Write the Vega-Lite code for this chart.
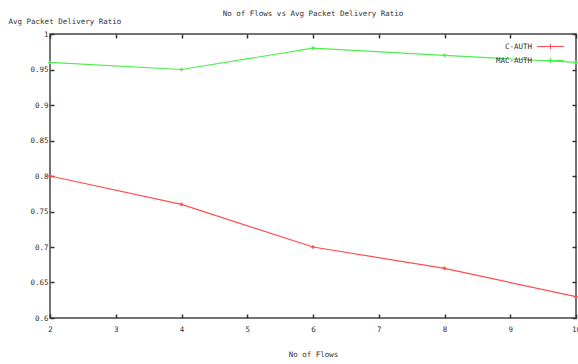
{
  "$schema": "https://vega.github.io/schema/vega-lite/v6.json",
  "width": 526,
  "height": 284,
  "autosize": {"type": "none"},
  "padding": {"left": 50, "top": 34, "right": 2, "bottom": 46},
  "background": "white",
  "title": {"text": "No of Flows vs Avg Packet Delivery Ratio", "fontSize": 7.5, "font": "DejaVu Sans Mono", "fontWeight": "normal", "color": "#333", "offset": 0, "anchor": "middle"},
  "data": {"values": [
    {"flows": 2, "pdr": 0.80, "series": "C-AUTH"},
    {"flows": 4, "pdr": 0.76, "series": "C-AUTH"},
    {"flows": 6, "pdr": 0.70, "series": "C-AUTH"},
    {"flows": 8, "pdr": 0.67, "series": "C-AUTH"},
    {"flows": 10, "pdr": 0.63, "series": "C-AUTH"},
    {"flows": 2, "pdr": 0.96, "series": "MAC-AUTH"},
    {"flows": 4, "pdr": 0.95, "series": "MAC-AUTH"},
    {"flows": 6, "pdr": 0.98, "series": "MAC-AUTH"},
    {"flows": 8, "pdr": 0.97, "series": "MAC-AUTH"},
    {"flows": 10, "pdr": 0.96, "series": "MAC-AUTH"}
  ]},
  "layer": [
    {
      "mark": {"type": "line", "strokeWidth": 1.2, "clip": true},
      "encoding": {
        "x": {"field": "flows", "type": "quantitative", "scale": {"domain": [2, 10], "nice": false, "zero": false},
          "axis": {"orient": "bottom", "values": [2, 3, 4, 5, 6, 7, 8, 9, 10], "labelFlush": false, "labelPadding": 11, "title": "No of Flows", "titleY": 36, "titleBaseline": "middle", "titleX": 263}},
        "y": {"field": "pdr", "type": "quantitative", "scale": {"domain": [0.6, 1], "nice": false, "zero": false},
          "axis": {"orient": "left", "values": [0.6, 0.65, 0.7, 0.75, 0.8, 0.85, 0.9, 0.95, 1], "labelFlush": false, "format": ".2~f", "labelPadding": 6, "title": "Avg Packet Delivery Ratio", "titleAngle": 0, "titleX": -42, "titleY": -13, "titleAlign": "left", "titleBaseline": "middle"}},
        "color": {"field": "series", "type": "nominal",
          "scale": {"domain": ["C-AUTH", "MAC-AUTH"], "range": ["#ff4d4d", "#4dee4d"]},
          "legend": {"orient": "none", "legendX": 493, "legendY": 5, "title": null, "padding": 0,
            "symbolType": "M-1.93,0H1.93M0,-0.36V0.36M-0.36,0H0.36", "symbolSize": 196, "symbolStrokeWidth": 1, "symbolFillColor": "transparent",
            "labelAlign": "right", "labelOffset": -26, "labelFontSize": 7.5, "labelFont": "DejaVu Sans Mono", "labelColor": "#333", "rowPadding": 1}}
      }
    },
    {
      "mark": {"type": "point", "shape": "cross", "filled": true, "size": 14, "opacity": 1},
      "encoding": {
        "x": {"field": "flows", "type": "quantitative", "scale": {"domain": [2, 10], "nice": false, "zero": false},
          "axis": {"orient": "top", "values": [2, 3, 4, 5, 6, 7, 8, 9, 10], "labels": false, "title": null}},
        "y": {"field": "pdr", "type": "quantitative", "scale": {"domain": [0.6, 1], "nice": false, "zero": false},
          "axis": {"orient": "right", "values": [0.6, 0.65, 0.7, 0.75, 0.8, 0.85, 0.9, 0.95, 1], "labels": false, "title": null}},
        "color": {"field": "series", "type": "nominal"}
      }
    }
  ],
  "resolve": {"axis": {"x": "independent", "y": "independent"}},
  "config": {
    "view": {"stroke": "#444", "strokeWidth": 1.5},
    "axis": {"domain": false, "grid": false, "tickColor": "#333", "tickSize": -4, "tickWidth": 1.5,
      "labelFont": "DejaVu Sans Mono", "labelFontSize": 7.5, "labelColor": "#333",
      "titleFont": "DejaVu Sans Mono", "titleFontSize": 7.5, "titleFontWeight": "normal", "titleColor": "#333"}
  }
}
